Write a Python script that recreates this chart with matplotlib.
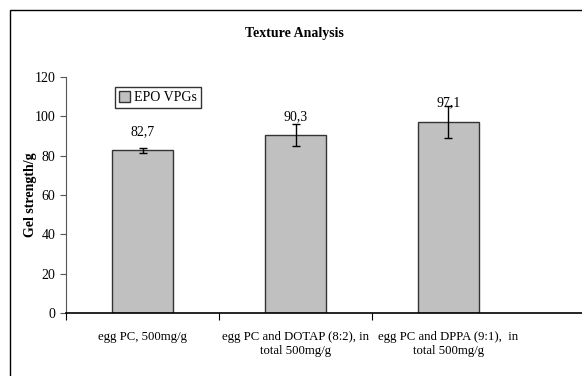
import matplotlib.pyplot as plt
from matplotlib.patches import Rectangle

# data
categories = ['egg PC, 500mg/g',
              'egg PC and DOTAP (8:2), in\ntotal 500mg/g',
              'egg PC and DPPA (9:1),  in\ntotal 500mg/g']
values = [82.7, 90.3, 97.1]
errors = [1.3, 5.6, 8.0]
value_labels = ['82,7', '90,3', '97,1']

plt.rcParams['font.family'] = ['Liberation Serif', 'DejaVu Serif']

W, H = 582, 376
fig = plt.figure(figsize=(W / 100, H / 100), dpi=100)

# outer chart frame (cut off on right/bottom like the reference)
fig.patches.append(Rectangle((10 / W, -0.1), 1.2, 1 - 10 / H + 0.1,
                             transform=fig.transFigure, fill=False,
                             edgecolor='black', linewidth=1.0))

ax = fig.add_axes([66 / W, 1 - 313 / H, (W - 66) / W, (313 - 77) / H])
x = list(range(len(categories)))
ax.bar(x, values, width=0.405, color='#c0c0c0', edgecolor='#333333',
       linewidth=1.0, label='EPO VPGs', zorder=2)
ax.errorbar(x, values, yerr=errors, fmt='none', ecolor='black',
            elinewidth=1.0, capsize=3, capthick=1.0, zorder=3)
for xi, v, lab in zip(x, values, value_labels):
    ax.annotate(lab, (xi, v), xytext=(0, 9), textcoords='offset points',
                ha='center', va='bottom', fontsize=10)

ax.set_xlim(-0.5, (W - 66) / 153 - 0.5)
ax.set_ylim(0, 120)
ax.set_yticks(range(0, 121, 20))
ax.tick_params(axis='y', labelsize=10, length=4, color='#555555')
ax.set_xticks([-0.5, 0.5, 1.5])
ax.set_xticks(x, minor=True)
ax.set_xticklabels([])
ax.set_xticklabels(categories, minor=True, fontsize=9.2)
ax.tick_params(axis='x', which='major', length=5)
ax.tick_params(axis='x', which='minor', length=0, pad=13)
for s in ['top', 'right']:
    ax.spines[s].set_visible(False)
ax.spines['left'].set_color('#555555')
ax.spines['bottom'].set_linewidth(1.2)

ax.set_ylabel('Gel strength/g', fontsize=10, fontweight='bold')
ax.yaxis.set_label_coords((37 - 66) / (W - 66), 0.5)
fig.text(294 / W, 1 - 33 / H, 'Texture Analysis', ha='center', va='center',
         fontsize=10, fontweight='bold')

leg = ax.legend(loc='upper left', bbox_to_anchor=(49 / (W - 66), 1 - 10 / 236),
                fontsize=10, frameon=True, fancybox=False, handlelength=0.8,
                handleheight=0.8, handletextpad=0.3, borderpad=0.3,
                borderaxespad=0)
leg.get_frame().set_edgecolor('black')
leg.get_frame().set_linewidth(1.0)

fig.savefig('out.png', dpi=100)
